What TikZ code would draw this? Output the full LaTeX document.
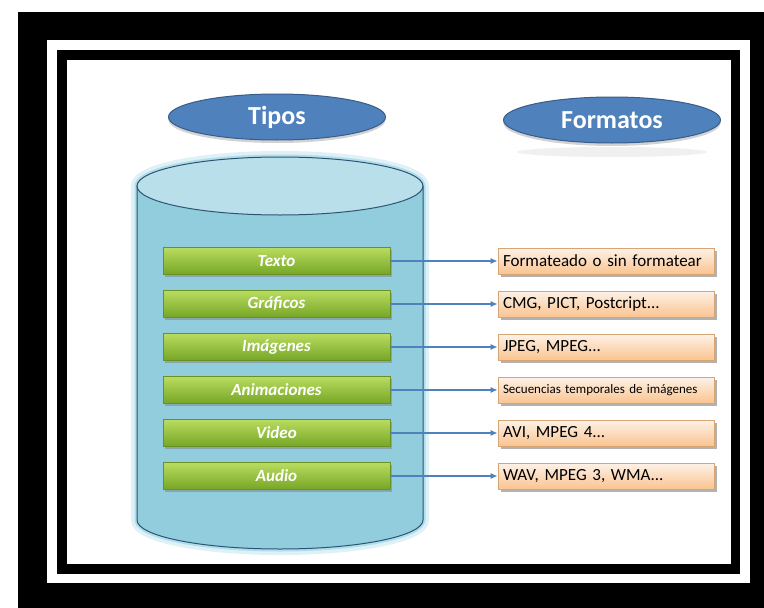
\documentclass[tikz,border=0pt]{standalone}
\usepackage{fontspec}
\setmainfont{Carlito}
\usetikzlibrary{shapes.geometric,shadows,arrows.meta}
\definecolor{ellblue}{RGB}{79,129,189}
\definecolor{ellline}{RGB}{56,93,138}
\definecolor{cylbody}{RGB}{146,205,222}
\definecolor{cyltop}{RGB}{185,223,235}
\definecolor{cylline}{RGB}{45,85,115}
\definecolor{cylglow}{RGB}{200,232,243}
\definecolor{grtop}{RGB}{185,220,95}
\definecolor{grbot}{RGB}{118,166,38}
\definecolor{grline}{RGB}{105,145,38}
\definecolor{pchtop}{RGB}{254,242,232}
\definecolor{pchbot}{RGB}{250,196,144}
\definecolor{pchline}{RGB}{215,165,115}
\definecolor{arrcol}{RGB}{79,129,189}
\begin{document}
\begin{tikzpicture}[x=1pt,y=-1pt,
  hdr/.style={ellipse, draw=ellline, line width=1pt, fill=ellblue,
    minimum width=217pt, minimum height=46pt, inner sep=0pt, text=white,
    font=\fontsize{26}{28}\selectfont\bfseries,
    drop shadow={shadow xshift=0pt, shadow yshift=-3pt, opacity=0.35}},
  tipo/.style={rectangle, draw=grline, line width=0.6pt, top color=grtop, bottom color=grbot,
    minimum width=227pt, minimum height=27pt, inner sep=0pt, text=white,
    font=\fontsize{17}{19}\selectfont\bfseries\itshape,
    drop shadow={shadow xshift=2pt, shadow yshift=-2pt, opacity=0.5}},
  fmt/.style={rectangle, draw=pchline, line width=0.6pt, top color=pchtop, bottom color=pchbot,
    minimum width=216pt, minimum height=26pt, inner sep=0pt, text width=206pt, align=left,
    font=\fontsize{17}{19}\selectfont,
    drop shadow={shadow xshift=2.5pt, shadow yshift=-2.5pt, opacity=0.6}},
  link/.style={draw=arrcol, line width=1.6pt, -{Latex[length=7pt,width=6pt]}}
]
\useasboundingbox (0,0) rectangle (764,608);
\fill[white] (0,0) rectangle (764,608);
% frame
\fill[black] (18,12) rectangle (764,608);
\fill[white] (47,40) rectangle (750,583);
\fill[black] (57,50) rectangle (740,574);
\fill[white] (67,60) rectangle (731,564);
% cylinder glow
\path[draw=cylglow, line width=12pt, opacity=0.6, line join=round]
  (137,186) -- (137,520) arc[start angle=180, end angle=0, x radius=143, y radius=29]
  -- (423,186) arc[start angle=0, end angle=-180, x radius=143, y radius=29] -- cycle;
\path[draw=cylglow!60!cylbody, line width=5pt, line join=round]
  (137,186) -- (137,520) arc[start angle=180, end angle=0, x radius=143, y radius=29]
  -- (423,186) arc[start angle=0, end angle=-180, x radius=143, y radius=29] -- cycle;
% cylinder body
\path[draw=cylline, fill=cylbody, line width=1pt]
  (137,186) -- (137,520) arc[start angle=180, end angle=0, x radius=143, y radius=29]
  -- (423,186) -- cycle;
\path[draw=cylline, fill=cyltop, line width=1pt] (280,186) ellipse[x radius=143, y radius=29];
% headers
\fill[gray!12] (612,152) ellipse[x radius=95, y radius=5];
\node[hdr] (tipos) at (277,117) {Tipos};
\node[hdr] (formatos) at (612,120) {Formatos};
% types
\node[tipo] (t1) at (276.5,261) {Texto};
\node[tipo] (t2) at (276.5,304) {Gráficos};
\node[tipo] (t3) at (276.5,347) {Imágenes};
\node[tipo] (t4) at (276.5,390) {Animaciones};
\node[tipo] (t5) at (276.5,433) {Video};
\node[tipo] (t6) at (276.5,476) {Audio};
% formats
\node[fmt] (f1) at (606,261) {Formateado o sin formatear};
\node[fmt] (f2) at (606,304) {CMG, PICT, Postcript...};
\node[fmt] (f3) at (606,347) {JPEG, MPEG...};
\node[fmt, font=\fontsize{13}{15}\selectfont] (f4) at (606,390) {Secuencias temporales de imágenes};
\node[fmt] (f5) at (606,433) {AVI, MPEG 4...};
\node[fmt] (f6) at (606,476) {WAV, MPEG 3, WMA...};
% links
\foreach \i in {1,...,6} {
  \draw[link] (t\i.east) -- (f\i.west);
}
\end{tikzpicture}
\end{document}
